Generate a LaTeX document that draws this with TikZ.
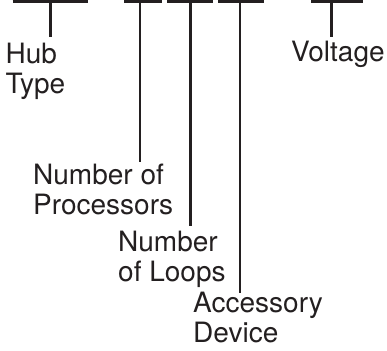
\documentclass[tikz,border=0pt]{standalone}
\usepackage{fontspec}
\setmainfont{TeX Gyre Heros}
\definecolor{ink}{HTML}{231F20}
\begin{document}
\begin{tikzpicture}[x=1pt,y=-1pt,
  lbl/.style={anchor=base west,inner sep=0pt,align=left,text=ink,
    font=\fontsize{28}{30}\selectfont},
  barline/.style={draw=ink,line width=2.8pt},
  stem/.style={draw=ink,line width=2.8pt}]
\useasboundingbox (0,0) rectangle (387,350);
% bars
\coordinate (b1l) at (12.7,1.5);  \coordinate (b1r) at (88.3,1.5);
\coordinate (b2l) at (124.3,1.5); \coordinate (b2r) at (162.3,1.5);
\coordinate (b3l) at (167.3,1.5); \coordinate (b3r) at (212.7,1.5);
\coordinate (b4l) at (218.3,1.5); \coordinate (b4r) at (264,1.5);
\coordinate (b5l) at (311,1.5);   \coordinate (b5r) at (362.5,1.5);
% stem tops / ends
\coordinate (s1) at (50.7,1.5);  \coordinate (e1) at (50.7,36.7);
\coordinate (s2) at (140,1.5);   \coordinate (e2) at (140,161.7);
\coordinate (s3) at (190.5,1.5); \coordinate (e3) at (190.5,226);
\coordinate (s4) at (240,1.5);   \coordinate (e4) at (240,292.7);
\coordinate (s5) at (331.7,1.5); \coordinate (e5) at (331.7,36.7);
% labels (base = baseline of last line)
\node[lbl] (hub) at (5.5,93.3) {Hub\\Type};
\node[lbl] (volt) at (291,61.7) {Voltage};
\node[lbl] (proc) at (33,214.3) {Number of\\Processors};
\node[lbl] (loops) at (118,281.7) {Number\\of Loops};
\node[lbl] (acc) at (193,342.7) {Accessory\\Device};
% draw
\foreach \i in {1,...,5} {
  \draw[barline] (b\i l) -- (b\i r);
  \draw[stem] (s\i) -- (e\i);
}
\end{tikzpicture}
\end{document}
